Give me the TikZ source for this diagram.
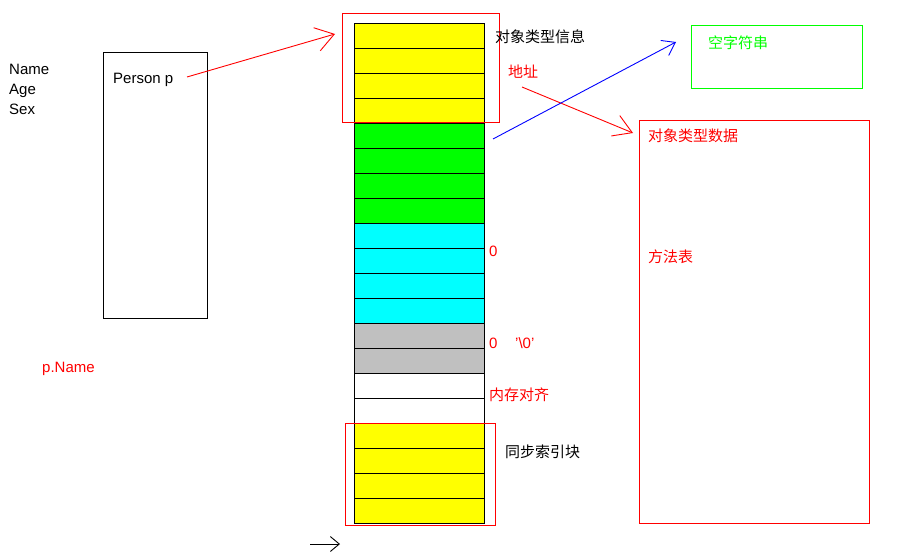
\documentclass[tikz,border=0pt]{standalone}
\usepackage{fontspec}
\setmainfont{Liberation Sans}
\newfontfamily\cjk{Noto Sans CJK SC}
\usepackage{tikz}
\usetikzlibrary{positioning,arrows.meta,calc}
\usepackage{xcolor}
\definecolor{slotyel}{HTML}{FFFF00}
\definecolor{slotgrn}{HTML}{00FF00}
\definecolor{slotcyn}{HTML}{00FFFF}
\definecolor{slotgry}{HTML}{C0C0C0}
\definecolor{alarm}{HTML}{FF0000}
\definecolor{link}{HTML}{0000FF}
\tikzset{
  cell/.style={draw, line width=0.8pt, minimum width=130pt, minimum height=25pt, inner sep=0pt, outer sep=0pt},
  txt/.style={anchor=base west, inner sep=0pt, font=\fontsize{15}{17}\selectfont},
  ctxt/.style={anchor=west, inner sep=0pt, font=\cjk\fontsize{15}{17}\selectfont},
  frame/.style={line width=1pt, inner sep=0pt, outer sep=0pt},
  barb/.style 2 args={-{Straight Barb[length=#1, width=#2, line width=0.9pt]}, line width=0.9pt}
}

\begin{document}
\begin{tikzpicture}[x=1pt, y=-1pt]
        \useasboundingbox (0,0) rectangle (911,559);
        % object layout, one slot per row
        \foreach \col [count=\i] in {slotyel,slotyel,slotyel,slotyel,slotgrn,slotgrn,slotgrn,slotgrn,
                                     slotcyn,slotcyn,slotcyn,slotcyn,slotgry,slotgry,white,white,
                                     slotyel,slotyel,slotyel,slotyel}
          \node[cell, fill=\col] (c\i) at (419, 10.5+25*\i) {};
        \draw[alarm, line width=1pt] (342,14) rectangle (499,123);
        \draw[alarm, line width=1pt] (345,423) rectangle (495,525);
        % left side
        \node[frame, draw=black, minimum width=104pt, minimum height=265pt] (obj) at (155,185.5) {};
        \node[txt] (ptr) at (113,84) {Person p};
        \node[txt] (fname) at (9,75) {Name};
        \node[txt] (fage) at (9,95) {Age};
        \node[txt] (fsex) at (9,115) {Sex};
        \node[txt, alarm] (pname) at (42,372) {p.Name};
        % labels next to the slots
        \node[ctxt] (tinfo) at (495,37) {对象类型信息};
        \node[ctxt, alarm] (addr) at (508,72) {地址};
        \node[txt, alarm] (zero1) at (489,256) {0};
        \node[txt, alarm] (zero2) at (489,348) {0};
        \node[txt, alarm] (nul) at (515,348) {'\textbackslash 0'};
        \node[ctxt, alarm] (align) at (489,395) {内存对齐};
        \node[ctxt] (sync) at (505,452) {同步索引块};
        % right side
        \node[frame, draw=slotgrn, minimum width=171pt, minimum height=63pt] (empty) at (776.5,57.5) {};
        \node[ctxt, slotgrn] at (708,43) {空字符串};
        \node[frame, draw=alarm, minimum width=230pt, minimum height=402pt] (tdata) at (754,322) {};
        \node[ctxt, alarm] at (648,136) {对象类型数据};
        \node[ctxt, alarm] at (648,257) {方法表};
        % connectors
        \coordinate (ptrend) at (187,77);
        \coordinate (hdr) at (335,34);
        \coordinate (addrend) at (522,87);
        \coordinate (tdin) at (633,133);
        \coordinate (strfrom) at (493,139);
        \coordinate (strto) at (676,42);
        \coordinate (fa) at (310,544);
        \coordinate (fb) at (340,544);
        \draw[barb={18pt}{24pt}, alarm] (ptrend) -- (hdr);
        \draw[barb={18pt}{22pt}, alarm] (addrend) -- (tdin);
        \draw[barb={12pt}{17pt}, link] (strfrom) -- (strto);
        \draw[barb={9pt}{15pt}] (fa) -- (fb);
      \end{tikzpicture}
\end{document}
